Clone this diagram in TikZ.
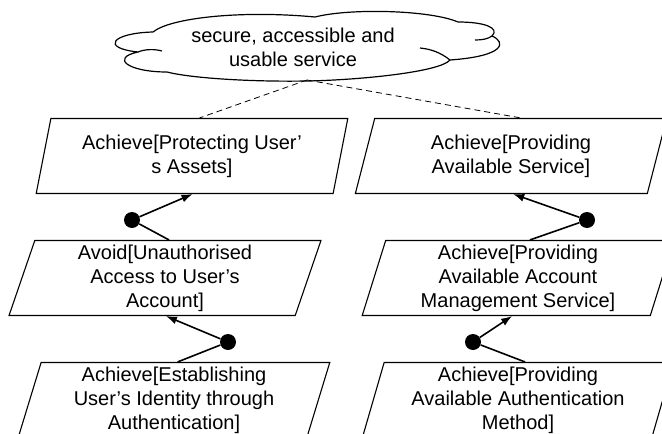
\documentclass[tikz,border=0pt]{standalone}
\usepackage{fontspec}
\setmainfont{Liberation Sans}
\usepackage{tikz}
\usetikzlibrary{shapes, arrows.meta}

\newcommand{\goalfont}{\fontsize{20}{24}\selectfont}

\tikzset{
    goal/.style={trapezium, draw, line width=1.1pt,
        trapezium left angle=76, trapezium right angle=104,
        trapezium stretches=true, minimum width=312pt, minimum height=75pt,
        inner sep=2pt, align=center, font=\goalfont},
    softgoal/.style={inner sep=0pt, align=center, font=\goalfont},
    cloudline/.style={line width=1.2pt, line join=round},
    andnode/.style={circle, fill, inner sep=0pt, minimum size=16pt},
    refine/.style={line width=1.6pt, -{Latex[length=11pt, width=8pt]}},
    link/.style={line width=1.6pt},
    contrib/.style={line width=0.8pt, dash pattern=on 6pt off 4pt}
}

\begin{document}
\begin{tikzpicture}[x=1pt, y=-1pt]
    \useasboundingbox (0, 0) rectangle (662, 434);
    \clip (0, 0) rectangle (662, 434);

    % soft goal cloud
    \draw[cloudline] (153,32)
        .. controls (170,18) and (240,10) .. (315,17)
        .. controls (350,8) and (430,10) .. (458,22)
        .. controls (485,22) and (500,28) .. (492,36)
        .. controls (506,42) and (506,56) .. (450,60)
        .. controls (440,72) and (360,80) .. (307,81)
        .. controls (250,82) and (190,78) .. (167,72)
        .. controls (128,72) and (110,58) .. (138,52)
        .. controls (100,48) and (112,33) .. (153,32) -- cycle;
    \draw[cloudline] (138,52) .. controls (145,49) and (155,49) .. (162,51);
    \draw[cloudline] (492,36) .. controls (488,39) and (482,40) .. (475,40);
    \draw[cloudline] (450,60) .. controls (440,52) and (430,49) .. (420,48);
    \node[softgoal] (sec) at (293, 47) {secure, accessible and\\usable service};
    \coordinate (secb) at (307, 80);

    \node[goal] (protect) at (192, 156) {Achieve[Protecting User’\\s Assets]};
    \node[goal] (avail) at (511, 156) {Achieve[Providing\\Available Service]};
    \node[goal] (unauth) at (165, 278) {Avoid[Unauthorised\\Access to User’s\\Account]};
    \node[goal] (acct) at (518, 278) {Achieve[Providing\\Available Account\\Management Service]};
    \node[goal] (ident) at (174, 400) {Achieve[Establishing\\User’s Identity through\\Authentication]};
    \node[goal] (method) at (518, 400) {Achieve[Providing\\Available Authentication\\Method]};

    \node[andnode] (r1) at (132, 220) {};
    \node[andnode] (r2) at (587, 220) {};
    \node[andnode] (r3) at (228, 342) {};
    \node[andnode] (r4) at (473, 342) {};

    \draw[contrib] (secb) -- (protect.top side);
    \draw[contrib] (secb) -- (avail.top side);

    \draw[link] ([xshift=-9pt]unauth.top side) -- (r1);
    \draw[refine] (r1) -- ([xshift=8pt]protect.bottom side);
    \draw[link] (acct.top side) -- (r2);
    \draw[refine] (r2) -- ([xshift=12pt]avail.bottom side);
    \draw[link] ([xshift=-8pt]ident.top side) -- (r3);
    \draw[refine] (r3) -- ([xshift=14pt]unauth.bottom side);
    \draw[link] ([xshift=-4pt]method.top side) -- (r4);
    \draw[refine] (r4) -- ([xshift=6pt]acct.bottom side);
\end{tikzpicture}
\end{document}
